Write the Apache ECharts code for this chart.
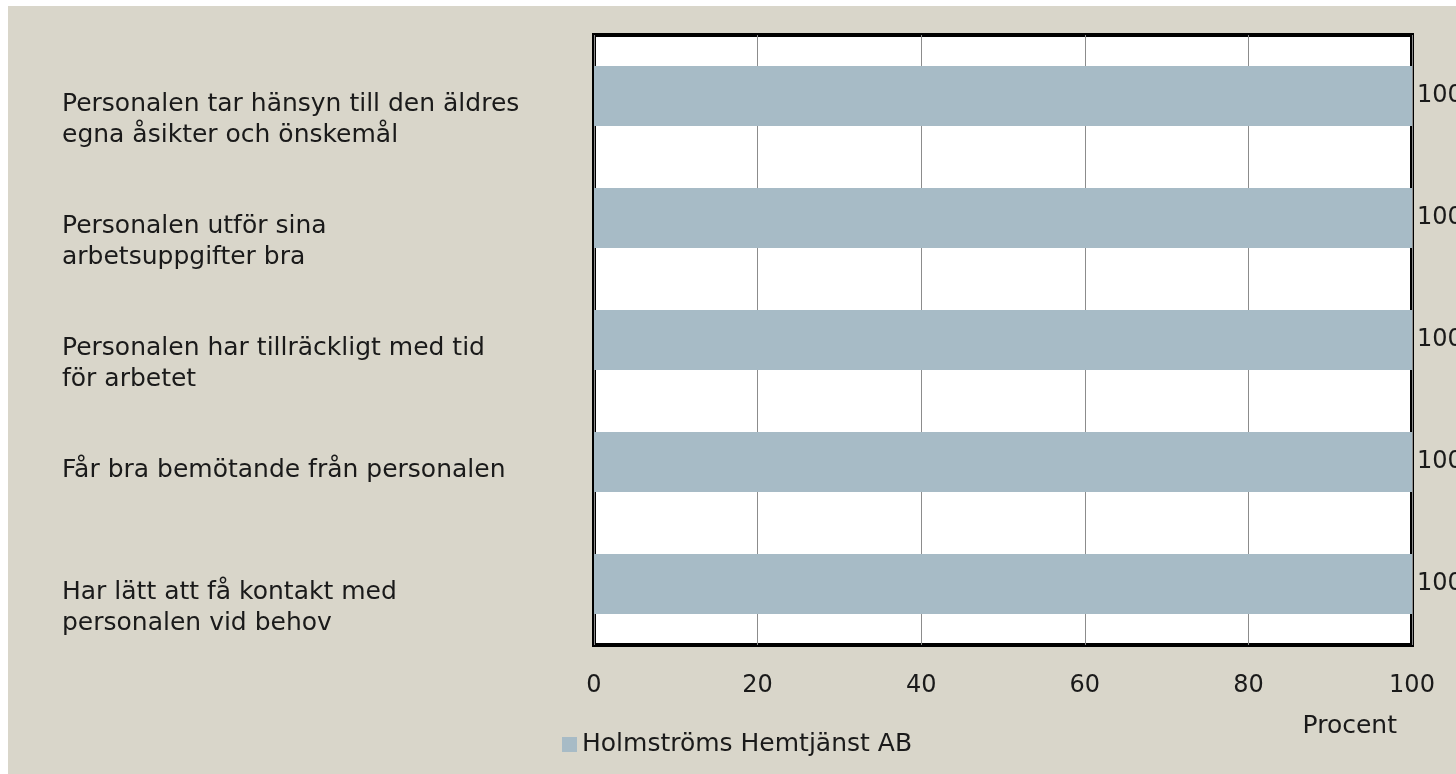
<!DOCTYPE html>
<html>
<head>
<meta charset="utf-8">
<script src="https://cdn.jsdelivr.net/npm/echarts@6/dist/echarts.min.js"></script>
<style>
  html, body { margin: 0; padding: 0; background: #ffffff; }
  #chart { position: absolute; left: 8px; top: 6px; width: 1448px; height: 768px; background: #d9d6ca; }
</style>
</head>
<body>
<div id="chart"></div>
<script>
// category labels, top to bottom
const categories = [
  "Personalen tar hänsyn till den äldres\negna åsikter och önskemål",
  "Personalen utför sina\narbetsuppgifter bra",
  "Personalen har tillräckligt med tid\nför arbetet",
  "Får bra bemötande från personalen",
  "Har lätt att få kontakt med\npersonalen vid behov"
];
const values = [100, 100, 100, 100, 100];
const seriesName = "Holmströms Hemtjänst AB";
const xTicks = [0, 20, 40, 60, 80, 100];

const FONT = "DejaVu Sans";
const TXT = "#1a1a1a";

const chart = echarts.init(document.getElementById("chart"), null, { renderer: "canvas" });

const option = {
  backgroundColor: "#d9d6ca",
  textStyle: { fontFamily: FONT },
  legend: {
    data: [seriesName],
    left: 549,
    top: 721,
    itemWidth: 15,
    itemHeight: 15,
    itemGap: 8,
    icon: "rect",
    textStyle: { fontSize: 25, color: TXT, fontFamily: FONT }
  },
  grid: [
    {
      left: 586, top: 29, width: 818, height: 610,
      show: true, backgroundColor: "#ffffff",
      borderColor: "#000000", borderWidth: 4
    },
    // helper grid only for the category text, shifted slightly up
    { left: 586, top: 22, width: 818, height: 610 }
  ],
  xAxis: [
    {
      type: "value", gridIndex: 0,
      min: xTicks[0], max: xTicks[xTicks.length - 1], interval: 20,
      name: "Procent",
      nameLocation: "end",
      nameGap: -15,
      nameTextStyle: {
        fontSize: 25, color: TXT, fontFamily: FONT,
        align: "right", verticalAlign: "top", padding: [69, 0, 0, 0]
      },
      axisLine: { show: false },
      axisTick: { show: false },
      axisLabel: { fontSize: 24, color: TXT, margin: 29, fontFamily: FONT },
      splitLine: { show: true, lineStyle: { color: "#8c8c8c", width: 1 } }
    },
    { type: "value", gridIndex: 1, min: 0, max: 100, show: false }
  ],
  yAxis: [
    {
      type: "category", gridIndex: 0, inverse: true, data: categories,
      axisLine: { show: false }, axisTick: { show: false },
      axisLabel: { show: false }, splitLine: { show: false }
    },
    {
      type: "category", gridIndex: 1, inverse: true, data: categories,
      axisLine: { show: false }, axisTick: { show: false },
      splitLine: { show: false },
      axisLabel: {
        align: "left", margin: 532, fontSize: 25, lineHeight: 31,
        color: TXT, fontFamily: FONT, verticalAlign: "top", interval: 0
      }
    }
  ],
  series: [
    {
      name: seriesName,
      type: "bar",
      xAxisIndex: 0, yAxisIndex: 0,
      data: values,
      barWidth: "49%",
      itemStyle: { color: "#a7bbc6" },
      label: {
        show: true, position: "right", distance: 5,
        fontSize: 24, color: TXT, fontFamily: FONT
      }
    }
  ]
};

chart.setOption(option);
</script>
</body>
</html>
